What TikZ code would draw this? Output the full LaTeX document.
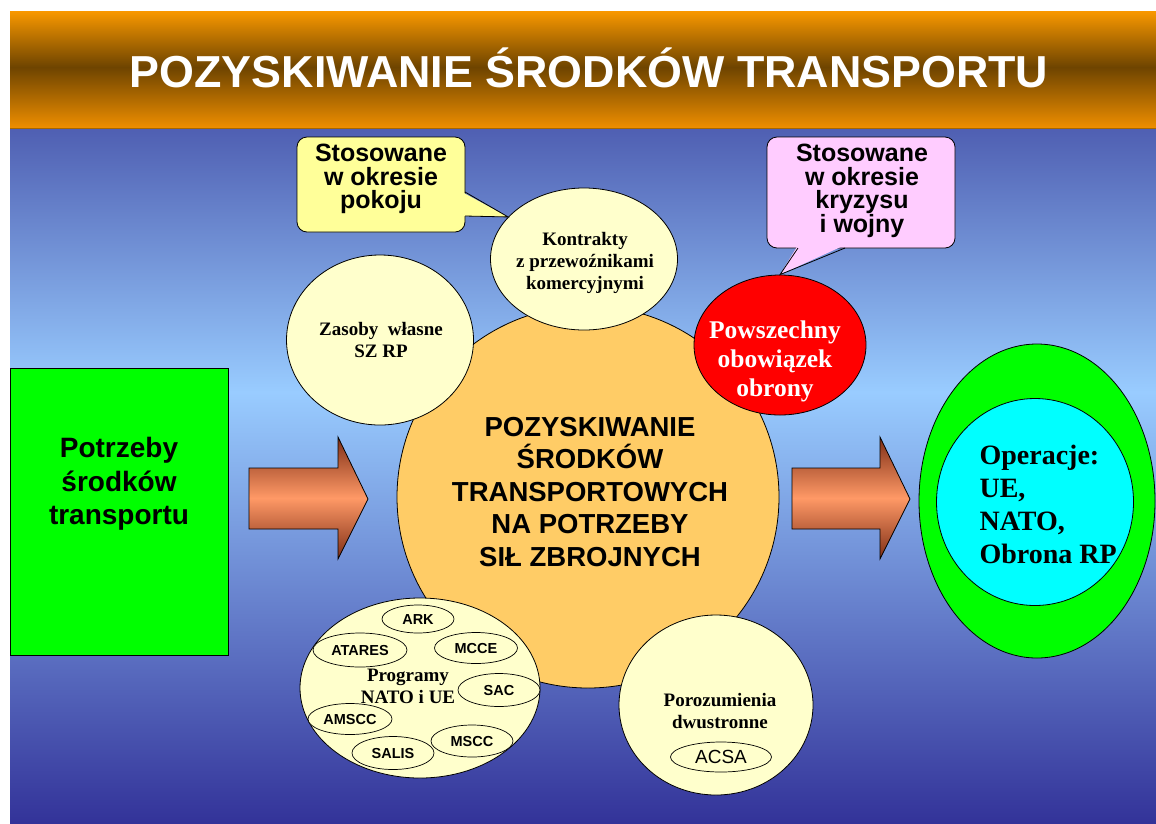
\documentclass[tikz,border=0pt]{standalone}
\usepackage{fontspec}
\setmainfont{Liberation Serif}
\setsansfont{Liberation Sans}
\usetikzlibrary{shapes.geometric}

% palette
\definecolor{bgtop}{HTML}{4F5FB2}
\definecolor{bglight}{HTML}{99CCFF}
\definecolor{bgdark}{HTML}{333399}
\definecolor{bandlight}{HTML}{F99800}
\definecolor{bandlow}{HTML}{EE8E00}
\definecolor{banddark}{HTML}{6E4400}
\definecolor{arrdark}{HTML}{7E2E16}
\definecolor{arrlight}{HTML}{FF9966}
\definecolor{core}{HTML}{FFCC66}
\definecolor{cream}{HTML}{FFFFCC}
\definecolor{calloutyellow}{HTML}{FFFF99}
\definecolor{calloutpink}{HTML}{FFCCFF}
\definecolor{alarm}{HTML}{FF0000}
\definecolor{vivid}{HTML}{00FF00}
\definecolor{aqua}{HTML}{00FFFF}

% gradients (the path box maps onto 25bp..75bp)
\pgfdeclareverticalshading{slidebg}{100bp}{color(0bp)=(bgdark); color(25bp)=(bgdark); color(56bp)=(bglight); color(75bp)=(bgtop); color(100bp)=(bgtop)}
\pgfdeclareverticalshading{titleband}{100bp}{color(0bp)=(bandlow); color(25bp)=(bandlow); color(51bp)=(banddark); color(75bp)=(bandlight); color(100bp)=(bandlight)}
\pgfdeclareverticalshading{arrowfill}{100bp}{color(0bp)=(arrdark); color(25bp)=(arrdark); color(50bp)=(arrlight); color(75bp)=(arrdark); color(100bp)=(arrdark)}

\tikzset{
  outline/.style={draw=black, line width=0.8pt},
  blob/.style={ellipse, outline, inner sep=0pt},
  satellite/.style={blob, fill=cream},
  progitem/.style={ellipse, draw=black, line width=0.7pt, fill=cream, inner sep=0pt,
    font=\sffamily\bfseries\fontsize{14.5}{16}\selectfont},
  serifnote/.style={align=center, font=\rmfamily\bfseries\fontsize{19}{22}\selectfont},
  calloutbox/.style={rectangle, rounded corners=10pt, outline, inner sep=0pt},
  callouttext/.style={align=center, font=\sffamily\bfseries\fontsize{25}{23.5}\selectfont},
  bigarrow/.style={outline, shading=arrowfill},
}

\begin{document}
\begin{tikzpicture}[x=1pt, y=-1pt]
\useasboundingbox (0,0) rectangle (1156,823);
\fill[white] (0,0) rectangle (1156,823);

% slide background and title band
\shade[shading=slidebg] (10,128) rectangle (1156,823);
\shade[shading=titleband] (10,11) rectangle (1156,128);
\draw[color=banddark!60!bandlight, line width=1.2pt] (10,128.5) -- (1156,128.5);
\node[anchor=base, text=white, inner sep=0pt,
  font=\sffamily\bfseries\fontsize{44.8}{44.8}\selectfont] (title) at (589,87)
  {POZYSKIWANIE ŚRODKÓW TRANSPORTU};

% left box: needs
\node[rectangle, outline, fill=vivid, minimum width=218pt, minimum height=287pt,
  anchor=north west, inner sep=0pt] (needs) at (10,368) {};
\node[align=center, font=\sffamily\bfseries\fontsize{28}{33.5}\selectfont] (needstxt)
  at (119,484) {Potrzeby\\środków\\transportu};

% block arrows
\shadedraw[bigarrow] (249,468) -- (338,468) -- (338,437) -- (368,499)
  -- (338,559) -- (338,529) -- (249,529) -- cycle;
\shadedraw[bigarrow] (792,468) -- (880,468) -- (880,437) -- (910,499)
  -- (880,559) -- (880,529) -- (792,529) -- cycle;

% central circle
\node[circle, outline, fill=core, minimum size=382pt, inner sep=0pt] (core) at (588,497) {};
\node[align=center, font=\sffamily\bfseries\fontsize{27.5}{32.5}\selectfont] (coretxt)
  at (590,492) {POZYSKIWANIE\\ŚRODKÓW\\TRANSPORTOWYCH\\NA POTRZEBY\\SIŁ ZBROJNYCH};

% satellites
\node[satellite, minimum width=187pt, minimum height=142pt] (kontr) at (584,259) {};
\node[serifnote] (kontrtxt) at (585,263) {Kontrakty\\z przewoźnikami\\komercyjnymi};

\node[satellite, minimum width=187pt, minimum height=170pt] (own) at (380,340) {};
\node[serifnote] (owntxt) at (381,340) {Zasoby\ \ własne\\SZ RP};

\node[blob, fill=alarm, minimum width=172pt, minimum height=140pt] (duty) at (780,345) {};
\node[align=center, text=white, font=\rmfamily\bfseries\fontsize{25.5}{29}\selectfont]
  (dutytxt) at (775,361) {Powszechny\\obowiązek\\obrony};

\node[satellite, minimum width=240pt, minimum height=180pt] (prog) at (420,688) {};
\node[progitem, minimum width=72pt,  minimum height=28pt] (ark)    at (418,619) {ARK};
\node[progitem, minimum width=94pt,  minimum height=34pt] (atares) at (360,650) {ATARES};
\node[progitem, minimum width=83pt,  minimum height=31pt] (mcce)   at (476,648) {MCCE};
\node[progitem, minimum width=82pt,  minimum height=33pt] (sac)    at (499,690) {SAC};
\node[progitem, minimum width=84pt,  minimum height=31pt] (amscc)  at (350,719) {AMSCC};
\node[progitem, minimum width=82pt,  minimum height=32pt] (mscc)   at (472,741) {MSCC};
\node[progitem, minimum width=82pt,  minimum height=33pt] (salis)  at (393,753) {SALIS};
\node[serifnote] (progtxt) at (408,686) {Programy\\NATO i UE};

\node[satellite, minimum width=194pt, minimum height=180pt] (bilat) at (716,705) {};
\node[serifnote] (bilattxt) at (720,711) {Porozumienia\\dwustronne};
\node[ellipse, draw=black, line width=0.7pt, inner sep=0pt, minimum width=101pt,
  minimum height=30pt, font=\sffamily\fontsize{19}{21}\selectfont] (acsa) at (721,757) {ACSA};

% operations target
\node[blob, fill=vivid, minimum width=236pt, minimum height=314pt] (ops) at (1037,501) {};
\node[blob, fill=aqua, minimum width=197pt, minimum height=207pt] (opsin) at (1035,502) {};
\node[anchor=west, align=left, font=\rmfamily\bfseries\fontsize{28}{33}\selectfont]
  (opstxt) at (976,504.5) {Operacje:\\UE,\\NATO,\\Obrona RP};

% callout: peace time
\node[calloutbox, fill=calloutyellow, minimum width=168pt, minimum height=95pt] (peace) at (381,184.5) {};
\coordinate (peacetip) at (kontr.151);
\fill[calloutyellow] (462,192) -- (peacetip) -- (462,216) -- cycle;
\draw[line width=0.8pt] (465,192) -- (peacetip) -- (465,216);
\node[callouttext] (peacetxt) at (381,179) {Stosowane\\w okresie\\pokoju};

% callout: crisis and war
\node[calloutbox, fill=calloutpink, minimum width=188pt, minimum height=111pt] (crisis) at (861,192.5) {};
\coordinate (crisistip) at (duty.north);
\fill[calloutpink] (798,245) -- (crisistip) -- (845,245) -- cycle;
\draw[line width=0.8pt] (798,248) -- (crisistip) -- (845,248);
\node[callouttext] (crisistxt) at (862,191) {Stosowane\\w okresie\\kryzysu\\i wojny};
\end{tikzpicture}
\end{document}
